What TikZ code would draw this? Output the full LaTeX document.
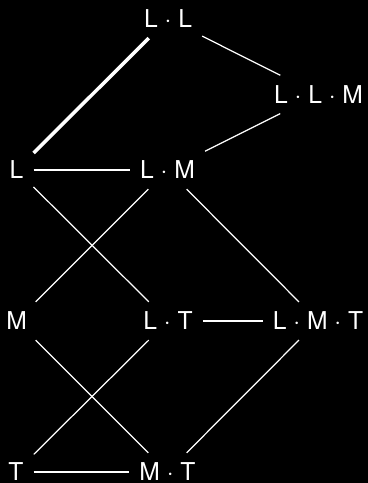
\documentclass[tikz,border=0pt]{standalone}
\usepackage{fontspec}
\setmainfont{TeX Gyre Heros}
\begin{document}
\begin{tikzpicture}[font=\fontsize{7}{8}\selectfont,
  term/.style={text=white,inner sep=2.9pt,outer sep=0pt},
  link/.style={draw=white,line width=.35pt},
  boldlink/.style={draw=white,line width=1pt}]
\useasboundingbox (0,0) rectangle (3.68,4.83);
\fill[black] (0,0) rectangle (3.68,4.83);
\node[term] (ll) at (1.68,4.64) {L · L};
\node[term] (llm) at (3.185,3.885) {L · L · M};
\node[term] (l) at (0.165,3.13) {L};
\node[term] (lm) at (1.675,3.13) {L · M};
\node[term] (m) at (0.165,1.62) {M};
\node[term] (lt) at (1.68,1.62) {L · T};
\node[term] (lmt) at (3.18,1.62) {L · M · T};
\node[term] (t) at (0.16,0.11) {T};
\node[term] (mt) at (1.675,0.11) {M · T};
\path[boldlink] (ll) -- (l);
\path[link] (ll) -- (llm);
\path[link] (llm) -- (lm);
\path[link] (l) -- (lm);
\path[link] (l) -- (lt);
\path[link] (lm) -- (m);
\path[link] (lm) -- (lmt);
\path[link] (m) -- (mt);
\path[link] (lt) -- (t);
\path[link] (lt) -- (lmt);
\path[link] (lmt) -- (mt);
\path[link] (t) -- (mt);
\end{tikzpicture}
\end{document}
